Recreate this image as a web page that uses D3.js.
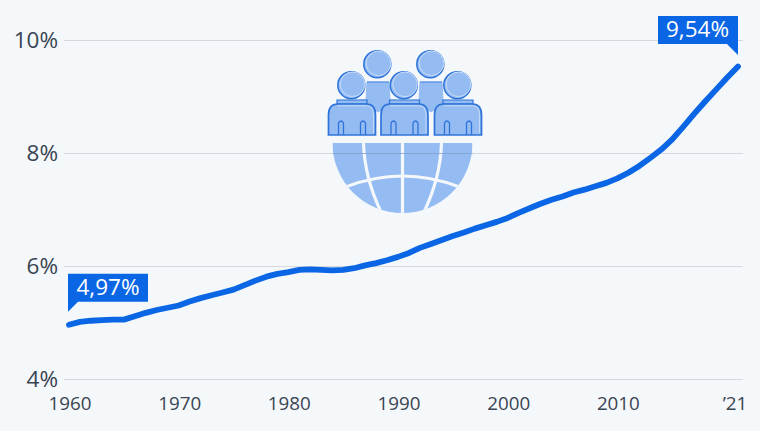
<!DOCTYPE html>
<html><head><meta charset="utf-8">
<script src="https://cdn.jsdelivr.net/npm/d3@7"></script>
<style>html,body{margin:0;padding:0;background:#f4f8fb;overflow:hidden}svg{display:block}text{font-family:"Open Sans","Noto Sans",sans-serif}</style>
</head><body><svg id="c" width="760" height="431"></svg>
<script>
const years = d3.range(1960, 2022);
const shares = [4.97,5.02,5.04,5.05,5.06,5.06,5.12,5.18,5.23,5.27,5.31,5.38,5.44,5.49,5.54,5.59,5.67,5.75,5.82,5.87,5.90,5.94,5.95,5.94,5.93,5.94,5.97,6.02,6.06,6.11,6.17,6.24,6.33,6.40,6.47,6.54,6.60,6.67,6.73,6.79,6.86,6.95,7.03,7.11,7.18,7.24,7.31,7.36,7.42,7.48,7.56,7.66,7.78,7.92,8.07,8.25,8.47,8.70,8.92,9.13,9.34,9.54];
const yTicks = [4,6,8,10];
const xTicks = [1960,1970,1980,1990,2000,2010,2021];
const xLabels = ["1960","1970","1980","1990","2000","2010","’21"];
const startLabel = "4,97%", endLabel = "9,54%";

const svg = d3.select("#c");
const x = d3.scaleLinear().domain([1960,2021]).range([69,738]);
const y = d3.scaleLinear().domain([4,10]).range([379.5,40.5]);
const BLUE="#0a66e4", TXT="#3a4452";

// gridlines
svg.append("g").selectAll("line").data(yTicks).join("line")
  .attr("x1",64).attr("x2",743).attr("y1",d=>y(d)).attr("y2",d=>y(d))
  .attr("stroke","#d5d9de").attr("stroke-width",1.2);

// y labels
svg.append("g").selectAll("text").data(yTicks).join("text")
  .attr("x",58).attr("y",d=>y(d)+7.5).attr("text-anchor","end")
  .attr("font-size",22.5).attr("fill",TXT).text(d=>d+"%");

// x labels
svg.append("g").selectAll("text").data(xTicks).join("text")
  .attr("x",(d,i)=> i==0?70: i==xTicks.length-1? 735: x(d)+1).attr("y",410).attr("text-anchor","middle")
  .attr("font-size",18.8).attr("fill",TXT).text((d,i)=>xLabels[i]);

// icon
const icon = svg.append("g");
const LB="#94bcf3", DB="#2f74d9", PALE="#c9dcf8";
// globe
const cx=402.5, gTop=143, R=70;
const defs=svg.append("defs");
defs.append("clipPath").attr("id","gl").append("path")
  .attr("d",`M${cx-R},${gTop} H${cx+R} A${R},${R} 0 0 1 ${cx-R},${gTop} Z`);
const g=icon.append("g").attr("clip-path","url(#gl)");
g.append("rect").attr("x",cx-R).attr("y",gTop).attr("width",2*R).attr("height",R+2).attr("fill",LB);
const wl=g.append("g").attr("fill","none").attr("stroke","#f4f8fb").attr("stroke-width",3.2);
wl.append("path").attr("d",`M${cx},${gTop} V${gTop+R}`);
wl.append("path").attr("d",`M${cx-39},${gTop} Q${cx-38},${gTop+35} ${cx-21},${gTop+70}`);
wl.append("path").attr("d",`M${cx+39},${gTop} Q${cx+38},${gTop+35} ${cx+21},${gTop+70}`);
wl.append("path").attr("d",`M${cx-57},${gTop+44} Q${cx},${gTop+22} ${cx+57},${gTop+44}`);
// gridline through globe
icon.append("line").attr("x1",cx-R).attr("x2",cx+R).attr("y1",y(8)).attr("y2",y(8)).attr("stroke","#7f9fcc").attr("stroke-width",0.8);

function head(cx0,cy0,r){
  icon.append("circle").attr("cx",cx0-0.7).attr("cy",cy0+0.7).attr("r",r).attr("fill",LB).attr("stroke",DB).attr("stroke-width",1.5);
  icon.append("circle").attr("cx",cx0+0.5).attr("cy",cy0-0.2).attr("r",r-1.2).attr("fill",LB).attr("stroke",PALE).attr("stroke-width",1);
}
// rear torsos
[378,431].forEach(c=>{
  icon.append("path").attr("d",`M${c-11},82 H${c+11} L${c+12},100 H${c+18} L${c+18},104 L${c+6},108 L${c},112 L${c-6},108 L${c-18},104 L${c-18},100 H${c-12} Z`)
    .attr("fill",LB).attr("stroke",LB);
  icon.append("path").attr("d",`M${c-11},82 H${c+11}`).attr("stroke",DB).attr("stroke-width",0.8);
  head(c,63.5,13.5);
});
// front figures
[352,404.5,458].forEach(c=>{
  const l=c-23.5,r=c+23.5,t=104,b=135;
  icon.append("path").attr("d",`M${c-15},${t} V100 H${c+15} V${t} Z`).attr("fill",LB).attr("stroke",DB).attr("stroke-width",1.2);
  icon.append("path").attr("d",`M${l+9},${t} H${r-9} Q${r},${t} ${r},${t+11} V${b} H${l} V${t+11} Q${l},${t} ${l+9},${t} Z`)
    .attr("fill",LB).attr("stroke",DB).attr("stroke-width",1.7);
  icon.append("path").attr("d",`M${l+9},${t+1.8} H${r-9} Q${r-2},${t+1.8} ${r-2},${t+11} V${b-2}`).attr("fill","none").attr("stroke",PALE).attr("stroke-width",0.9);
  [c-11,c+11].forEach(a=>icon.append("path").attr("d",`M${a-2.5},${b} V${b-12} Q${a},${b-16} ${a+2.5},${b-12} V${b}`).attr("fill","none").attr("stroke",DB).attr("stroke-width",1.3));
  head(c,84.5,13.5);
});

// line
const line=d3.line().x((d,i)=>x(years[i])).y(d=>y(d));
svg.append("path").datum(shares).attr("d",line).attr("fill","none").attr("stroke",BLUE)
  .attr("stroke-width",5.8).attr("stroke-linecap","round").attr("stroke-linejoin","round");

// callouts
const lab=svg.append("g");
const ax0=x(1960), ay0=y(shares[0]), ax1=x(2021), ay1=y(shares[61]);
lab.append("path").attr("d",`M${ax0-1},${ay0-51} H${ax0+79} V${ay0-23} H${ax0+9} L${ax0-1},${ay0-13} Z`).attr("fill",BLUE);
lab.append("text").attr("x",ax0+39).attr("y",ay0-30).attr("text-anchor","middle").attr("font-size",22.5).attr("fill","#fff").text(startLabel);
lab.append("path").attr("d",`M${ax1-80},${ay1-50.5} H${ax1} V${ay1-11.5} L${ax1-11},${ay1-22.5} H${ax1-80} Z`).attr("fill",BLUE);
lab.append("text").attr("x",ax1-40.5).attr("y",ay1-29).attr("text-anchor","middle").attr("font-size",22.5).attr("fill","#fff").text(endLabel);
</script></body></html>
